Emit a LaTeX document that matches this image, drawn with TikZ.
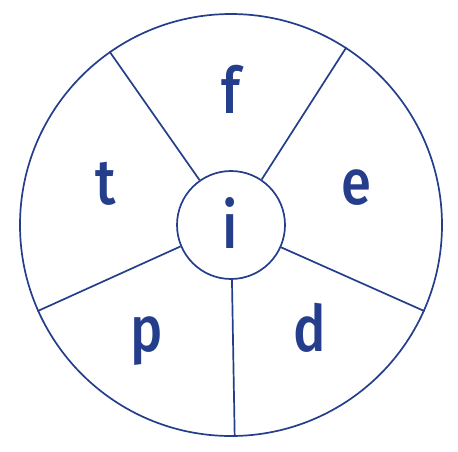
\documentclass[tikz,border=0pt]{standalone}
\usepackage{fontspec}
\setmainfont{Fira Sans}[BoldFont={Fira Sans Medium}]
\usepackage{xcolor}
\definecolor{wheelblue}{RGB}{37,62,140}
\newcommand{\wheelLetter}[4]{
    \node[letter] (#1) at (#2,#3) {\scalebox{0.85}[1]{#4}}
}

\begin{document}
\begin{tikzpicture}[x=1pt,y=-1pt,
    letter/.style={inner sep=0pt,text=wheelblue,font=\fontsize{64}{64}\selectfont\bfseries},
    ring/.style={draw=wheelblue,line width=1.7pt,circle,inner sep=0pt}]
            \useasboundingbox (0,0) rectangle (458,451);
            \node[ring,minimum size=422pt] (rim) at (231,225) {};
            \node[ring,minimum size=108pt] (hub) at (231,225) {};

            \draw[wheelblue,line width=1.7pt] (hub.125) -- (rim.125);
            \draw[wheelblue,line width=1.7pt] (hub.56) -- (rim.57.5);
            \draw[wheelblue,line width=1.7pt] (hub.-24) -- (rim.-24.5);
            \draw[wheelblue,line width=1.7pt] (hub.-89) -- (rim.-89.5);
            \draw[wheelblue,line width=1.7pt] (hub.-157.5) -- (rim.-156.6);

            \wheelLetter{f}{231}{89.5}{f};
            \wheelLetter{e}{356}{187.5}{e};
            \wheelLetter{t}{106}{184}{t};
            \wheelLetter{i}{230}{223}{i};
            \wheelLetter{p}{147}{341}{p};
            \wheelLetter{d}{310}{328}{d};
        \end{tikzpicture}
\end{document}
